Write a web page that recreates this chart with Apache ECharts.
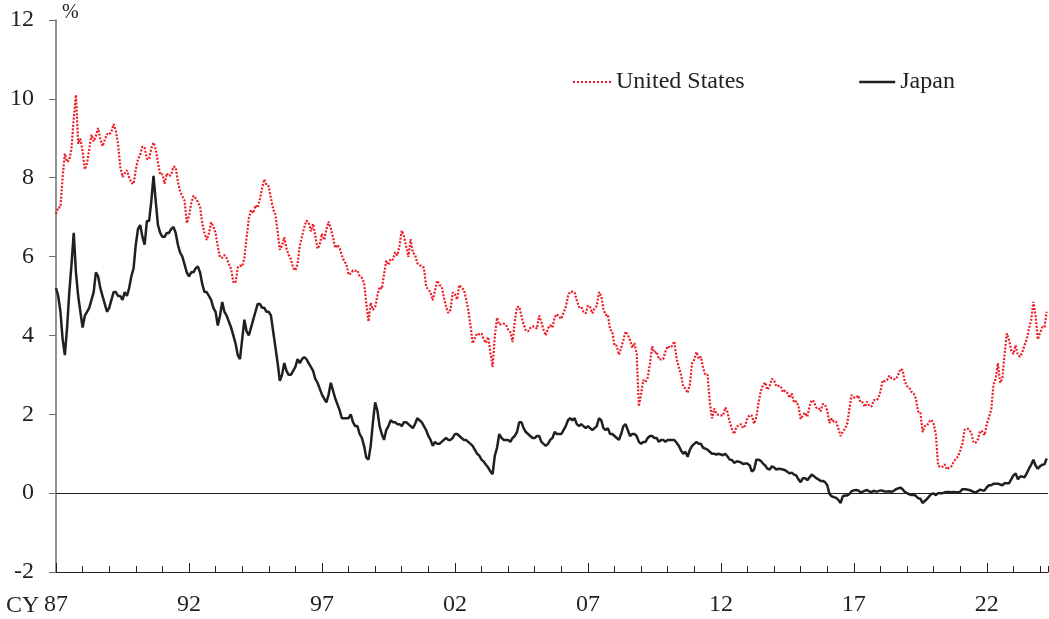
<!DOCTYPE html>
<html>
<head>
<meta charset="utf-8">
<script src="https://cdn.jsdelivr.net/npm/echarts@6/dist/echarts.min.js"></script>
<style>
html,body{margin:0;padding:0;background:#fff;}
#chart{width:1049px;height:619px;}
</style>
</head>
<body>
<div id="chart"></div>
<script>
// Monthly observations, Jan 1987 .. Apr 2024
const startYear = 1987;
const seriesNames = ['United States', 'Japan'];
const yTicks = [-2, 0, 2, 4, 6, 8, 10, 12];
const xTickLabels = ['87', '92', '97', '02', '07', '12', '17', '22'];

const usYield = [
  7.08, 7.25, 7.25, 8.02, 8.61, 8.40, 8.45, 8.76, 9.50, 10.10, 8.86, 8.99,
  8.67, 8.21, 8.37, 8.72, 9.09, 8.92, 9.06, 9.26, 8.98, 8.80, 8.96, 9.11,
  9.09, 9.17, 9.36, 9.18, 8.86, 8.28, 8.02, 8.11, 8.19, 8.01, 7.87, 7.84,
  8.21, 8.47, 8.59, 8.79, 8.76, 8.48, 8.47, 8.75, 8.89, 8.72, 8.39, 8.08,
  8.09, 7.85, 8.11, 8.04, 8.07, 8.28, 8.27, 7.90, 7.65, 7.53, 7.42, 6.85,
  7.03, 7.34, 7.54, 7.48, 7.39, 7.26, 6.84, 6.59, 6.42, 6.59, 6.87, 6.77,
  6.60, 6.26, 5.98, 5.97, 6.04, 5.96, 5.81, 5.68, 5.36, 5.33, 5.72, 5.77,
  5.75, 5.97, 6.48, 6.97, 7.18, 7.10, 7.30, 7.24, 7.46, 7.74, 7.96, 7.81,
  7.78, 7.47, 7.20, 7.06, 6.63, 6.17, 6.28, 6.49, 6.20, 6.04, 5.93, 5.71,
  5.65, 5.81, 6.27, 6.51, 6.74, 6.91, 6.87, 6.64, 6.83, 6.53, 6.20, 6.30,
  6.58, 6.42, 6.69, 6.89, 6.71, 6.49, 6.22, 6.30, 6.21, 6.03, 5.88, 5.81,
  5.54, 5.57, 5.65, 5.64, 5.65, 5.50, 5.46, 5.34, 4.81, 4.35, 4.83, 4.65,
  4.72, 5.00, 5.23, 5.18, 5.54, 5.90, 5.79, 5.94, 5.92, 6.11, 6.03, 6.28,
  6.66, 6.52, 6.26, 5.99, 6.44, 6.10, 6.05, 5.83, 5.80, 5.74, 5.72, 5.24,
  5.16, 5.10, 4.89, 5.14, 5.39, 5.28, 5.24, 4.97, 4.73, 4.57, 4.65, 5.09,
  5.04, 4.91, 5.28, 5.21, 5.16, 4.93, 4.65, 4.26, 3.80, 3.94, 4.05, 4.03,
  4.05, 3.90, 3.81, 3.96, 3.57, 3.20, 3.98, 4.45, 4.27, 4.29, 4.30, 4.27,
  4.15, 4.08, 3.83, 4.35, 4.72, 4.73, 4.50, 4.28, 4.13, 4.10, 4.19, 4.23,
  4.22, 4.17, 4.50, 4.34, 4.14, 4.00, 4.18, 4.26, 4.20, 4.46, 4.54, 4.47,
  4.42, 4.57, 4.72, 4.99, 5.11, 5.11, 5.09, 4.88, 4.72, 4.73, 4.60, 4.56,
  4.76, 4.72, 4.56, 4.69, 4.75, 5.10, 5.00, 4.67, 4.52, 4.53, 4.15, 4.10,
  3.74, 3.74, 3.51, 3.68, 3.88, 4.10, 4.01, 3.89, 3.69, 3.81, 3.53, 2.20,
  2.52, 2.87, 2.82, 2.93, 3.29, 3.72, 3.56, 3.59, 3.40, 3.39, 3.40, 3.59,
  3.73, 3.69, 3.73, 3.85, 3.42, 3.20, 3.01, 2.70, 2.65, 2.54, 2.76, 3.29,
  3.39, 3.58, 3.41, 3.46, 3.17, 3.00, 3.00, 2.30, 1.90, 2.15, 2.01, 1.98,
  1.97, 1.97, 2.17, 2.05, 1.80, 1.62, 1.50, 1.68, 1.72, 1.75, 1.65, 1.72,
  1.91, 1.98, 1.96, 1.76, 1.93, 2.30, 2.58, 2.74, 2.81, 2.62, 2.72, 2.90,
  2.86, 2.71, 2.72, 2.71, 2.56, 2.60, 2.54, 2.42, 2.53, 2.30, 2.33, 2.21,
  1.88, 1.98, 2.04, 1.94, 2.20, 2.36, 2.32, 2.17, 2.17, 2.07, 2.26, 2.24,
  2.09, 1.78, 1.89, 1.81, 1.81, 1.64, 1.45, 1.56, 1.63, 1.76, 2.14, 2.49,
  2.43, 2.42, 2.48, 2.30, 2.30, 2.19, 2.32, 2.21, 2.20, 2.36, 2.35, 2.40,
  2.58, 2.86, 2.84, 2.87, 2.98, 2.91, 2.89, 2.89, 3.00, 3.15, 3.12, 2.83,
  2.71, 2.68, 2.57, 2.53, 2.40, 2.07, 2.06, 1.55, 1.70, 1.71, 1.81, 1.86,
  1.76, 1.50, 0.70, 0.66, 0.67, 0.73, 0.60, 0.65, 0.68, 0.79, 0.87, 0.93,
  1.08, 1.26, 1.61, 1.64, 1.62, 1.52, 1.28, 1.28, 1.37, 1.58, 1.56, 1.47,
  1.76, 1.93, 2.13, 2.75, 2.90, 3.30, 2.80, 2.90, 3.52, 4.05, 3.89, 3.62,
  3.53, 3.75, 3.50, 3.46, 3.57, 3.75, 3.90, 4.17, 4.38, 4.85, 4.50, 3.90,
  4.06, 4.21, 4.21, 4.60
];

const jpYield = [
  5.20, 5.00, 4.60, 3.90, 3.50, 4.20, 5.10, 5.80, 6.60, 5.60, 5.00, 4.60,
  4.20, 4.50, 4.60, 4.70, 4.90, 5.10, 5.60, 5.50, 5.20, 5.00, 4.80, 4.60,
  4.70, 4.90, 5.10, 5.10, 5.00, 5.00, 4.90, 5.10, 5.00, 5.20, 5.50, 5.70,
  6.30, 6.70, 6.80, 6.50, 6.30, 6.90, 6.90, 7.40, 8.05, 7.40, 6.80, 6.60,
  6.50, 6.50, 6.60, 6.60, 6.70, 6.75, 6.60, 6.30, 6.10, 6.00, 5.80, 5.60,
  5.50, 5.60, 5.60, 5.70, 5.75, 5.60, 5.30, 5.10, 5.10, 5.00, 4.90, 4.70,
  4.60, 4.25, 4.50, 4.85, 4.60, 4.50, 4.35, 4.20, 4.00, 3.80, 3.50, 3.40,
  3.90, 4.40, 4.10, 4.00, 4.20, 4.40, 4.60, 4.80, 4.80, 4.70, 4.70, 4.60,
  4.60, 4.50, 4.10, 3.70, 3.30, 2.85, 3.00, 3.30, 3.10, 3.00, 3.00, 3.10,
  3.20, 3.40, 3.30, 3.40, 3.45, 3.40, 3.30, 3.20, 3.10, 2.90, 2.80, 2.65,
  2.50, 2.40, 2.30, 2.50, 2.80, 2.60, 2.40, 2.25, 2.10, 1.90, 1.90, 1.90,
  1.90, 2.00, 1.80, 1.70, 1.70, 1.50, 1.40, 1.20, 0.90, 0.85, 1.20, 1.80,
  2.30, 2.10, 1.70, 1.50, 1.35, 1.60, 1.70, 1.85, 1.80, 1.80, 1.75, 1.75,
  1.70, 1.80, 1.80, 1.75, 1.70, 1.65, 1.75, 1.90, 1.85, 1.80, 1.70, 1.60,
  1.45, 1.35, 1.20, 1.30, 1.25, 1.25, 1.30, 1.35, 1.40, 1.35, 1.35, 1.40,
  1.50, 1.50, 1.45, 1.40, 1.35, 1.35, 1.30, 1.25, 1.20, 1.10, 1.00, 0.95,
  0.85, 0.80, 0.72, 0.65, 0.55, 0.48, 0.95, 1.15, 1.50, 1.40, 1.35, 1.35,
  1.35, 1.30, 1.40, 1.45, 1.55, 1.80, 1.80, 1.65, 1.55, 1.50, 1.45, 1.40,
  1.40, 1.45, 1.45, 1.30, 1.25, 1.20, 1.25, 1.35, 1.40, 1.55, 1.50, 1.50,
  1.50, 1.60, 1.70, 1.85, 1.90, 1.85, 1.90, 1.75, 1.70, 1.75, 1.70, 1.65,
  1.70, 1.65, 1.60, 1.65, 1.70, 1.90, 1.85, 1.65, 1.60, 1.65, 1.50, 1.50,
  1.45, 1.40, 1.35, 1.50, 1.70, 1.75, 1.60, 1.45, 1.50, 1.50, 1.45, 1.30,
  1.25, 1.30, 1.30, 1.40, 1.45, 1.45, 1.40, 1.40, 1.30, 1.35, 1.35, 1.30,
  1.35, 1.35, 1.35, 1.35, 1.28, 1.20, 1.08, 1.00, 1.05, 0.92, 1.10, 1.20,
  1.25, 1.30, 1.25, 1.25, 1.15, 1.13, 1.10, 1.05, 1.00, 1.00, 0.98, 1.00,
  0.98, 0.96, 1.00, 0.93, 0.85, 0.84, 0.77, 0.80, 0.80, 0.78, 0.74, 0.75,
  0.75, 0.70, 0.55, 0.60, 0.85, 0.85, 0.82, 0.75, 0.70, 0.62, 0.60, 0.68,
  0.65, 0.60, 0.62, 0.61, 0.60, 0.58, 0.54, 0.50, 0.52, 0.47, 0.45, 0.35,
  0.28, 0.38, 0.38, 0.33, 0.40, 0.47, 0.43, 0.38, 0.35, 0.31, 0.31, 0.28,
  0.20, -0.02, -0.08, -0.10, -0.12, -0.17, -0.25, -0.08, -0.06, -0.06, -0.02, 0.05,
  0.07, 0.08, 0.07, 0.02, 0.04, 0.06, 0.08, 0.04, 0.03, 0.06, 0.04, 0.05,
  0.07, 0.06, 0.04, 0.04, 0.05, 0.03, 0.06, 0.10, 0.12, 0.14, 0.10, 0.03,
  0.00, -0.03, -0.05, -0.04, -0.07, -0.13, -0.14, -0.25, -0.20, -0.15, -0.08, -0.02,
  -0.01, -0.05, 0.00, 0.00, 0.00, 0.02, 0.03, 0.03, 0.02, 0.03, 0.02, 0.02,
  0.04, 0.10, 0.10, 0.09, 0.08, 0.06, 0.03, 0.02, 0.05, 0.09, 0.07, 0.07,
  0.15, 0.20, 0.20, 0.24, 0.24, 0.24, 0.22, 0.20, 0.25, 0.25, 0.25, 0.35,
  0.45, 0.50, 0.35, 0.42, 0.42, 0.40, 0.50, 0.62, 0.72, 0.85, 0.70, 0.62,
  0.68, 0.72, 0.73, 0.88
];

const toPairs = arr => arr.map((v, i) => [startYear + i / 12, v]);
const xMax = startYear + 37.3;
const serif = '"Liberation Serif", "Times New Roman", serif';
const txt = '#231f20';
const usColor = '#ed1c24';
const jpColor = '#231f20';

const chart = echarts.init(document.getElementById('chart'), null, {renderer: 'canvas'});
chart.setOption({
  animation: false,
  backgroundColor: '#fff',
  grid: {left: 56, right: 1, top: 20, bottom: 47, containLabel: false},
  legend: [
    {data: [seriesNames[0]], left: 572, top: 70, padding: 0, itemWidth: 38, itemHeight: 14,
     itemStyle: {opacity: 0, borderWidth: 0},
     lineStyle: {color: usColor, width: 2, type: [2, 2]},
     textStyle: {fontFamily: serif, fontSize: 24, color: txt}},
    {data: [seriesNames[1]], left: 858, top: 70, padding: 0, itemWidth: 36, itemHeight: 14,
     itemStyle: {opacity: 0, borderWidth: 0},
     lineStyle: {color: jpColor, width: 2.5, type: 'solid'},
     textStyle: {fontFamily: serif, fontSize: 24, color: txt}}
  ],
  xAxis: [
    {type: 'value', min: startYear, max: xMax, interval: 1,
     axisLine: {show: true, onZero: false, lineStyle: {color: '#231f20', width: 1}},
     axisTick: {show: true, inside: true, length: 6, lineStyle: {color: '#231f20'}},
     axisLabel: {show: false}, splitLine: {show: false}},
    {type: 'value', min: startYear, max: xMax, interval: 5, position: 'bottom',
     axisLine: {show: false, onZero: false},
     axisTick: {show: true, inside: true, length: 9, lineStyle: {color: '#231f20'}},
     axisLabel: {show: true, margin: 21, fontFamily: serif, fontSize: 24, color: txt,
       formatter: v => { const k = Math.round((v - startYear) / 5); return xTickLabels[k] || ''; },
       showMaxLabel: false},
     splitLine: {show: false}}
  ],
  yAxis: {
    type: 'value', min: yTicks[0], max: yTicks[yTicks.length - 1], interval: 2,
    axisLine: {show: true, lineStyle: {color: '#6d6e71', width: 1.5}},
    axisTick: {show: true, inside: false, length: 7, lineStyle: {color: '#6d6e71'}},
    axisLabel: {margin: 22, fontFamily: serif, fontSize: 24, color: txt},
    splitLine: {show: false}
  },
  graphic: [
    {type: 'text', left: 62, top: 3, style: {text: '%', font: '20px ' + serif, fill: txt}},
    {type: 'text', left: 6, top: 594, style: {text: 'CY', font: '24px ' + serif, fill: txt}}
  ],
  series: [
    {name: seriesNames[0], type: 'line', xAxisIndex: 0, data: toPairs(usYield), showSymbol: false, symbol: 'none',
     color: usColor, lineStyle: {color: usColor, width: 2.2, type: [2, 1.6]}, z: 3},
    {name: seriesNames[1], type: 'line', xAxisIndex: 0, data: toPairs(jpYield), showSymbol: false, symbol: 'none',
     color: jpColor, lineStyle: {color: jpColor, width: 2.5, type: 'solid'}, z: 4,
     markLine: {silent: true, symbol: 'none', label: {show: false},
       lineStyle: {color: '#231f20', width: 1, type: 'solid'}, data: [{yAxis: 0}]}}
  ]
});
</script>
</body>
</html>
